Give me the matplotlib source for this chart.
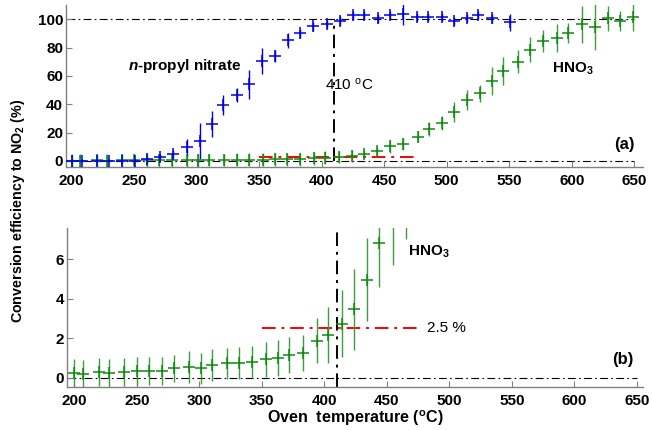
import matplotlib

matplotlib.use("Agg")
import matplotlib.pyplot as plt

plt.rcParams["font.family"] = ["Liberation Sans", "DejaVu Sans"]
plt.rcParams["mathtext.fontset"] = "custom"
plt.rcParams["mathtext.rm"] = "Liberation Sans"
plt.rcParams["mathtext.bf"] = "Liberation Sans:bold"
plt.rcParams["mathtext.it"] = "Liberation Sans:italic"
plt.rcParams["mathtext.bfit"] = "Liberation Sans:italic:bold"

# n-propyl nitrate conversion (%)
npn_temp = [200, 208, 220, 230, 240, 251, 260, 271, 281, 292, 303, 312, 321, 332,
            342, 352, 363, 373, 383, 393, 404, 415, 425, 434, 445, 455, 465, 476,
            485, 496, 506, 516, 525, 536, 551]
npn_eff = [0, 0, 0, 0, 0, 0, 1.0, 3.0, 5.0, 9.5, 14, 26, 39.5, 46.5,
           54, 70.5, 74, 85, 90, 95, 96.5, 99, 103, 103, 100.5, 103, 104, 101.7,
           101.7, 101.7, 98.6, 101, 103, 100.5, 98]
npn_err = [1, 1, 1, 1, 1, 1, 1.5, 2, 3, 6, 13, 9, 7, 5,
           10, 9, 4, 5, 3, 3, 3, 3, 3, 3, 3, 3, 8, 3,
           3, 3, 3, 3, 3, 3, 6]

# HNO3 conversion (%)
hno3_temp = [200, 207, 220, 228, 240, 250, 260, 270, 280, 292, 301, 310, 322, 332,
             342, 353, 363, 372, 383, 394, 403, 414, 424, 434, 444, 455, 465, 477,
             486, 496, 506, 516, 527, 536, 545, 557, 567, 577, 588, 597, 608, 619,
             629, 639, 649]
hno3_eff = [0.24, 0.2, 0.29, 0.24, 0.29, 0.32, 0.34, 0.34, 0.46, 0.54, 0.46, 0.63, 0.71, 0.75,
            0.8, 0.92, 1.0, 1.14, 1.25, 1.86, 2.15, 2.73, 3.46, 4.95, 6.8, 10.3, 12, 17,
            22.5, 27, 34.5, 43, 47.6, 56.4, 63.6, 70, 78.6, 84.5, 86.7, 90.2, 96.4, 94.5,
            100.5, 98.6, 101.7]
# uncertainty shown on the full-scale panel
hno3_err_a = [4.5] * 23 + [3, 3, 4.6, 4, 4, 5, 5, 7, 7, 6, 10, 10, 8, 9, 8, 10, 7, 13, 16,
                           9, 7, 10]
# uncertainty shown on the low-range panel
hno3_err_b = [0.7] * 9 + [0.8] * 6 + [0.9] * 4 + [1.15, 1.4, 1.7, 2.05, 2.1, 2.2, 4.6] + [5] * 19

threshold = 2.5
t50 = 410

blue = "#0000e6"
green = "#108a10"
green_bar = "#3c9e3c"
grey = "#808080"
dashdot = (0, (7, 3, 1.5, 3))

fig = plt.figure(figsize=(6.52, 4.30), dpi=100)
ax_a = fig.add_axes([66 / 652, 1 - 167 / 430, 577 / 652, 162 / 430])
ax_b = fig.add_axes([67 / 652, 1 - 387 / 430, 576 / 652, 159 / 430])


def style_axes(ax):
    for side in ("top", "right"):
        ax.spines[side].set_visible(False)
    for side in ("left", "bottom"):
        ax.spines[side].set_color(grey)
        ax.spines[side].set_linewidth(1.0)
    ax.tick_params(direction="in", length=4, color=grey, labelsize=11)
    ax.tick_params(axis="x", pad=5)
    ax.tick_params(axis="y", pad=2)
    for lab in ax.get_xticklabels() + ax.get_yticklabels():
        lab.set_fontweight("bold")


def draw_series(ax, x, y, err, color, bar_color):
    ax.errorbar(x, y, yerr=err, fmt="none", ecolor=bar_color, elinewidth=1.0,
                capsize=0, zorder=3)
    ax.plot(x, y, "+", color=color, ms=9, mew=1.1, zorder=4)


# (a) full range
ax = ax_a
ax.plot([196, 650], [100, 100], color="k", lw=0.8, ls=dashdot, zorder=1)
ax.plot([196, 650], [0, 0], color="k", lw=0.8, ls=dashdot, zorder=1)
ax.plot([t50, t50], [0, 100], color="k", lw=1.4, ls=dashdot, zorder=2)
ax.plot([350, 475], [threshold, threshold], color="red", lw=1.4, ls=dashdot, zorder=2)
draw_series(ax, hno3_temp, hno3_eff, hno3_err_a, green, green_bar)
draw_series(ax, npn_temp, npn_eff, npn_err, blue, blue)
ax.set_xlim(195.6, 657)
ax.set_ylim(-4.3, 110)
ax.set_xticks(range(200, 651, 50))
ax.set_yticks(range(0, 101, 20))
style_axes(ax)
ax.text(245, 67, r"$\mathbfit{n}$-propyl nitrate", fontsize=11, fontweight="bold",
        va="center", ha="left")
ax.text(402.5, 53.5, r"410 $^{\mathrm{o}}$C", fontsize=11, va="center", ha="left")
ax.text(584, 65, r"HNO$_\mathbf{3}$", fontsize=11, fontweight="bold", va="center", ha="left")
ax.text(650, 11.5, "(a)", fontsize=12, fontweight="bold", va="center", ha="right")

# (b) low range
ax = ax_b
ax.plot([195, 650], [0, 0], color="k", lw=0.8, ls=dashdot, zorder=1)
ax.plot([t50, t50], [-0.48, 7.57], color="k", lw=1.4, ls=dashdot, zorder=2)
ax.plot([350, 475], [threshold, threshold], color="red", lw=1.4, ls=dashdot, zorder=2)
draw_series(ax, hno3_temp, hno3_eff, hno3_err_b, green, green_bar)
ax.set_xlim(194, 655)
ax.set_ylim(-0.48, 7.57)
ax.set_xticks(range(200, 651, 50))
ax.set_yticks(range(0, 7, 2))
style_axes(ax)
ax.text(467, 6.35, r"HNO$_\mathbf{3}$", fontsize=11, fontweight="bold", va="center", ha="left")
ax.text(482, threshold, f"{threshold} %", fontsize=11, va="center", ha="left")
ax.text(647.5, 0.9, "(b)", fontsize=12, fontweight="bold", va="center", ha="right")

fig.text(18 / 652, 1 - 211 / 430, r"Conversion efficiency to NO$_\mathbf{2}$ (%)",
         rotation=90, fontsize=10.3, fontweight="bold", ha="center", va="center")
fig.text(355 / 652, 1 - 418 / 430, r"Oven  temperature ($^{\mathbf{o}}$C)",
         fontsize=11.5, fontweight="bold", ha="center", va="center")

fig.savefig("out.png", dpi=100)
